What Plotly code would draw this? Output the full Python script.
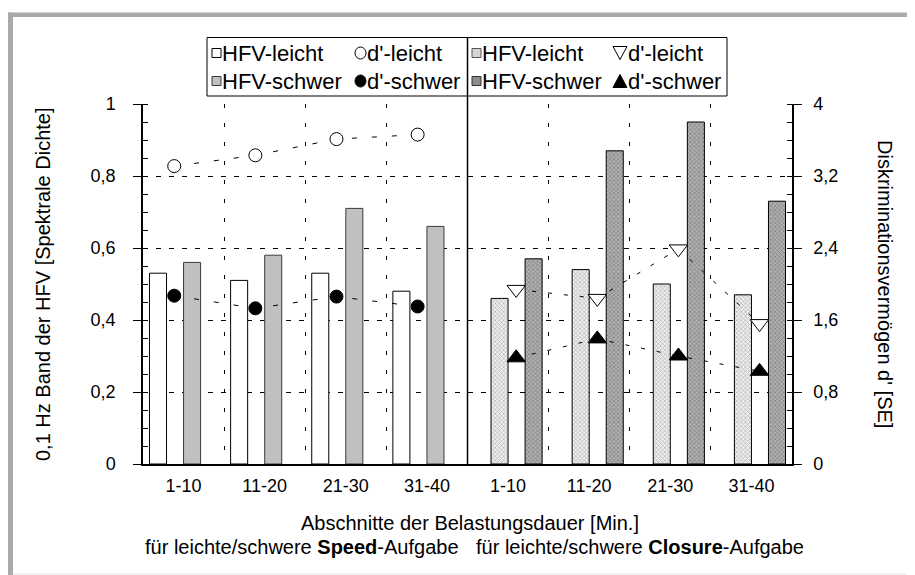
import plotly.graph_objects as go

# ---------------- data ----------------
periods = ["1-10", "11-20", "21-30", "31-40"]
tasks = ["Speed", "Closure"]

speed_hfv_leicht = [0.53, 0.51, 0.53, 0.48]
speed_hfv_schwer = [0.56, 0.58, 0.71, 0.66]
closure_hfv_leicht = [0.46, 0.54, 0.50, 0.47]
closure_hfv_schwer = [0.57, 0.87, 0.95, 0.73]

speed_d_leicht = [3.31, 3.43, 3.61, 3.66]
speed_d_schwer = [1.87, 1.73, 1.86, 1.75]
closure_d_leicht = [1.94, 1.84, 2.39, 1.56]
closure_d_schwer = [1.18, 1.39, 1.20, 1.03]

left_ticks = [0, 0.2, 0.4, 0.6, 0.8, 1.0]
right_ticks = [0, 0.8, 1.6, 2.4, 3.2, 4.0]

speed_cats = [f"{tasks[0]} {p}" for p in periods]
closure_cats = [f"{tasks[1]} {p}" for p in periods]
all_cats = speed_cats + closure_cats

# ---------------- geometry helpers (screen pixels; page body has 8px margin) ----------------
W, H = 915, 575
OFF = 8
PL, PR, PT, PB = 143, 792, 104, 464   # plot area in screen px


def fx(px):
    return (px - PL) / (PR - PL)


def fy(py):
    return (PB - py) / (PB - PT)


FONT = "Liberation Sans, Arial, Helvetica, sans-serif"
FS = 18      # tick labels
FL = 22      # legend
FT = 20      # axis titles

fig = go.Figure()

bar_line = dict(color="black", width=1)
fig.add_bar(x=speed_cats, y=speed_hfv_leicht, name="HFV-leicht (Speed)",
            offset=-0.42, width=0.21,
            marker=dict(color="white", line=bar_line))
fig.add_bar(x=speed_cats, y=speed_hfv_schwer, name="HFV-schwer (Speed)",
            offset=0.0, width=0.21,
            marker=dict(color="#c0c0c0", line=dict(color="#3a3a3a", width=1)))
fig.add_bar(x=closure_cats, y=closure_hfv_leicht, name="HFV-leicht (Closure)",
            offset=-0.21, width=0.21,
            marker=dict(color="white", line=bar_line,
                        pattern=dict(shape="x", fgcolor="#7a7a7a", bgcolor="#eeeeee",
                                     size=3, solidity=0.4)))
fig.add_bar(x=closure_cats, y=closure_hfv_schwer, name="HFV-schwer (Closure)",
            offset=0.21, width=0.21,
            marker=dict(color="#a0a0a0", line=bar_line,
                        pattern=dict(shape="x", fgcolor="#4a4a4a", bgcolor="#b0b0b0",
                                     size=3, solidity=0.4)))

dash_s = "5px,15px"
dash_c = "4px,12px"
line_style = dict(color="black", width=1)

# Speed d' (on shifted overlay x-axis x2, right y-axis y2)
fig.add_scatter(x=speed_cats, y=speed_d_leicht, xaxis="x2", yaxis="y2", mode="lines",
                line=dict(line_style, dash=dash_s), showlegend=False, hoverinfo="skip")
fig.add_scatter(x=speed_cats, y=speed_d_schwer, xaxis="x2", yaxis="y2", mode="lines",
                line=dict(line_style, dash=dash_s), showlegend=False, hoverinfo="skip")
fig.add_scatter(x=speed_cats, y=speed_d_leicht, xaxis="x2", yaxis="y2", mode="markers",
                name="d'-leicht (Speed)",
                marker=dict(symbol="circle", size=13, color="white",
                            line=dict(color="black", width=1)))
fig.add_scatter(x=speed_cats, y=speed_d_schwer, xaxis="x2", yaxis="y2", mode="markers",
                name="d'-schwer (Speed)",
                marker=dict(symbol="circle", size=13, color="black",
                            line=dict(color="black", width=1)))

# Closure d' (on shifted overlay x-axis x3)
fig.add_scatter(x=closure_cats, y=closure_d_leicht, xaxis="x3", yaxis="y2", mode="lines",
                line=dict(line_style, dash=dash_c), showlegend=False, hoverinfo="skip")
fig.add_scatter(x=closure_cats, y=closure_d_schwer, xaxis="x3", yaxis="y2", mode="lines",
                line=dict(line_style, dash=dash_c), showlegend=False, hoverinfo="skip")
fig.add_scatter(x=closure_cats, y=closure_d_leicht, xaxis="x3", yaxis="y2", mode="markers",
                name="d'-leicht (Closure)",
                marker=dict(symbol="triangle-down", size=16, color="white",
                            line=dict(color="black", width=1)))
fig.add_scatter(x=closure_cats, y=closure_d_schwer, xaxis="x3", yaxis="y2", mode="markers",
                name="d'-schwer (Closure)",
                marker=dict(symbol="triangle-up", size=16, color="black",
                            line=dict(color="black", width=1)))

n = len(all_cats)
shift_s = 0.115
shift_c = -0.10

axis_font = dict(family=FONT, size=FS, color="black")

fig.update_layout(
    width=W, height=H,
    margin=dict(l=PL - OFF, r=W - (PR - OFF), t=PT - OFF, b=H - (PB - OFF), pad=0),
    paper_bgcolor="white", plot_bgcolor="white",
    font=dict(family=FONT, size=FS, color="black"),
    separators=",.",
    barmode="overlay",
    showlegend=False,
    xaxis=dict(type="category", categoryorder="array", categoryarray=all_cats,
               range=[-0.5, n - 0.5], tickmode="array", tickvals=all_cats,
               ticktext=periods + periods, tickson="boundaries", ticks="",
               showgrid=True, gridcolor="black", gridwidth=1, griddash="4px,15px",
               showline=True, linecolor="black", linewidth=1.5, zeroline=False,
               tickfont=axis_font, ticklabelstandoff=5),
    xaxis2=dict(type="category", categoryorder="array", categoryarray=all_cats,
                range=[-0.5 + shift_s, n - 0.5 + shift_s], overlaying="x",
                visible=False, anchor="y"),
    xaxis3=dict(type="category", categoryorder="array", categoryarray=all_cats,
                range=[-0.5 + shift_c, n - 0.5 + shift_c], overlaying="x",
                visible=False, anchor="y"),
    yaxis=dict(range=[0, 1], tickmode="array", tickvals=left_ticks,
               showgrid=True, gridcolor="black", gridwidth=1, griddash="5px,8px",
               showline=True, linecolor="black", linewidth=1.5, zeroline=False,
               ticks="outside", ticklen=8, tickcolor="black", tickwidth=1,
               minor=dict(ticks="inside", dtick=0.05, ticklen=5, tickcolor="black",
                          showgrid=False),
               tickfont=axis_font, ticklabelstandoff=14),
    yaxis2=dict(range=[0, 4], tickmode="array", tickvals=right_ticks,
                overlaying="y", side="right", anchor="x",
                showgrid=False, showline=True, linecolor="black", linewidth=1.5,
                zeroline=False, ticks="outside", ticklen=8, tickcolor="black",
                tickwidth=1,
                minor=dict(ticks="inside", dtick=0.2, ticklen=5, tickcolor="black",
                           showgrid=False),
                tickfont=axis_font, ticklabelstandoff=8),
)

shapes = []
# outer grey frame (top and left)
frame_col = "#aaaaae"
shapes.append(dict(type="rect", xref="paper", yref="paper", x0=fx(8), x1=fx(930),
                   y0=fy(17), y1=fy(12.5), fillcolor=frame_col, line=dict(width=0),
                   layer="above"))
shapes.append(dict(type="rect", xref="paper", yref="paper", x0=fx(8), x1=fx(13),
                   y0=fy(590), y1=fy(12.5), fillcolor=frame_col, line=dict(width=0),
                   layer="above"))
shapes.append(dict(type="line", xref="paper", yref="paper", x0=fx(13), x1=fx(930),
                   y0=fy(574), y1=fy(574), line=dict(color="#e4e4e4", width=1)))

# legend box and middle divider
shapes.append(dict(type="rect", xref="paper", yref="paper", x0=fx(207), x1=fx(727),
                   y0=fy(96), y1=fy(37.5), line=dict(color="black", width=1),
                   fillcolor="white", layer="above"))
shapes.append(dict(type="line", xref="x", yref="paper", x0=n / 2 - 0.5, x1=n / 2 - 0.5,
                   y0=0, y1=fy(37.5), line=dict(color="black", width=1.5),
                   layer="above"))

row1, row2 = 53, 81


def sq(x0, yc, fill, edge):
    return dict(type="rect", xref="paper", yref="paper", x0=fx(x0), x1=fx(x0 + 9),
                y0=fy(yc + 4.5), y1=fy(yc - 4.5), fillcolor=fill,
                line=dict(color=edge, width=1), layer="above")


shapes += [sq(212, row1, "white", "black"), sq(212, row2, "#c0c0c0", "#3a3a3a"),
           sq(472, row1, "#d4d4d4", "#555555"), sq(472, row2, "#8c8c8c", "#333333")]

# circles
for yc, fill in [(row1, "white"), (row2, "black")]:
    shapes.append(dict(type="circle", xref="paper", yref="paper",
                       x0=fx(355), x1=fx(366), y0=fy(yc + 6), y1=fy(yc - 6),
                       fillcolor=fill, line=dict(color="black", width=1), layer="above"))


def tri(xc, yc, down, fill):
    h = 13
    w = 14
    if down:
        pts = [(xc - w / 2, yc - h / 2), (xc + w / 2, yc - h / 2), (xc, yc + h / 2)]
    else:
        pts = [(xc - w / 2, yc + h / 2), (xc + w / 2, yc + h / 2), (xc, yc - h / 2)]
    path = "M " + " L ".join(f"{fx(a):.5f},{fy(b):.5f}" for a, b in pts) + " Z"
    return dict(type="path", xref="paper", yref="paper", path=path, fillcolor=fill,
                line=dict(color="black", width=1), layer="above")


shapes += [tri(620, row1, True, "white"), tri(620, row2, False, "black")]
fig.update_layout(shapes=shapes)

ann = []


def text(t, xpx, ypx, xanchor="left", angle=0, size=FS):
    ann.append(dict(text=t, x=fx(xpx), y=fy(ypx), xref="paper", yref="paper",
                    xanchor=xanchor, yanchor="middle", showarrow=False,
                    textangle=angle, font=dict(family=FONT, size=size, color="black")))


# legend texts
text("HFV-leicht", 220, row1, size=FL)
text("HFV-schwer", 220, row2, size=FL)
text("d'-leicht", 365, row1, size=FL)
text("d'-schwer", 365, row2, size=FL)
text("HFV-leicht", 480, row1, size=FL)
text("HFV-schwer", 480, row2, size=FL)
text("d'-leicht", 626, row1, size=FL)
text("d'-schwer", 626, row2, size=FL)

# axis titles
text("0,1 Hz Band der HFV [Spektrale Dichte]", 43, 284, xanchor="center", angle=-90, size=FT)
text("Diskriminationsvermögen d' [SE]", 885, 284, xanchor="center", angle=90, size=FT)
text("Abschnitte der Belastungsdauer [Min.]", 470, 523, xanchor="center", size=FT)
text("für leichte/schwere <b>Speed</b>-Aufgabe", 143, 547, xanchor="left", size=FT)
text("für leichte/schwere <b>Closure</b>-Aufgabe", 806, 547, xanchor="right", size=FT)

fig.update_layout(annotations=ann)

fig.write_html("out.html")
